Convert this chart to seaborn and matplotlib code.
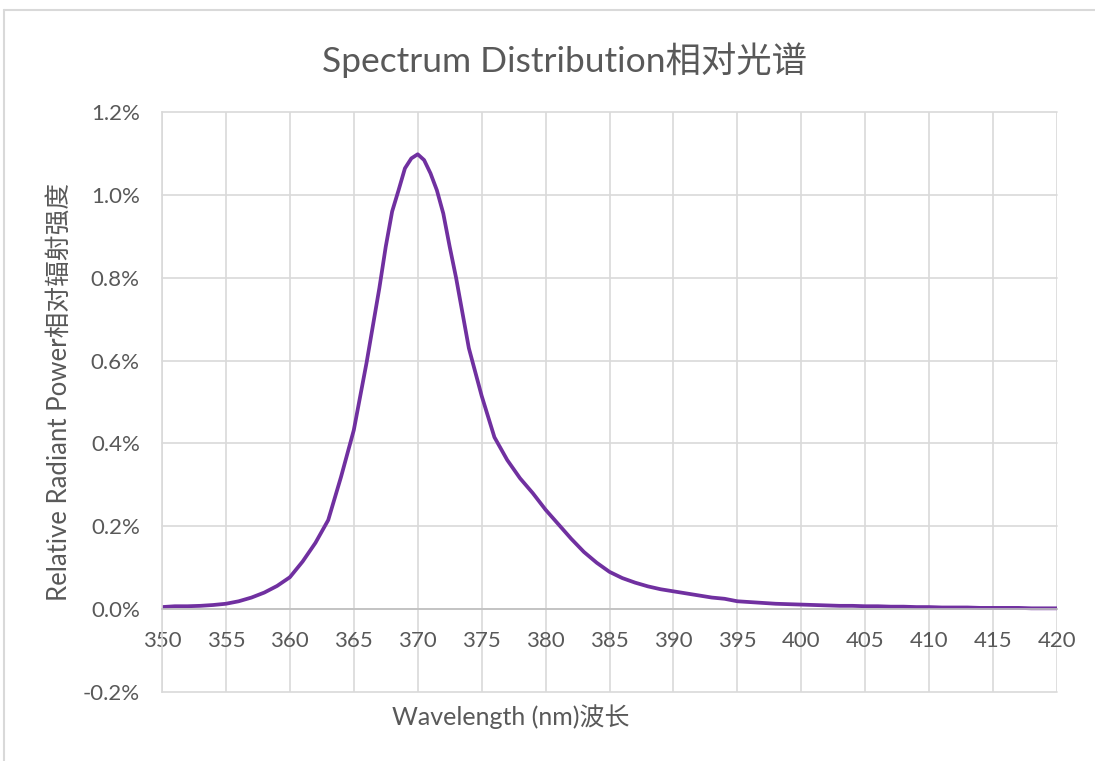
import matplotlib
matplotlib.use("Agg")
import matplotlib.pyplot as plt
import seaborn as sns
from matplotlib.ticker import PercentFormatter, MultipleLocator
from matplotlib.lines import Line2D

# wavelength (nm) and relative radiant power (%)
wavelength = [350, 351, 352, 353, 354, 355, 356, 357, 358, 359,
              360, 361, 362, 363, 364, 365, 366, 367, 367.5, 368,
              368.5, 369, 369.5, 370, 370.5, 371, 371.5, 372, 372.5, 373,
              374, 375, 376, 377, 378, 379, 380, 381, 382, 383,
              384, 385, 386, 387, 388, 389, 390, 391, 392, 393,
              394, 395, 396, 397, 398, 399, 400, 401, 402, 403,
              404, 405, 406, 407, 408, 409, 410, 411, 412, 413,
              414, 415, 416, 417, 418, 419, 420]
power = [0.005, 0.007, 0.007, 0.008, 0.010, 0.013, 0.019, 0.028, 0.040, 0.056,
         0.077, 0.115, 0.160, 0.215, 0.319, 0.432, 0.595, 0.775, 0.875, 0.960,
         1.011, 1.064, 1.088, 1.098, 1.084, 1.052, 1.011, 0.955, 0.875, 0.800,
         0.630, 0.515, 0.415, 0.360, 0.316, 0.280,
         0.240, 0.205, 0.170, 0.138, 0.112, 0.090, 0.075, 0.064, 0.055, 0.048,
         0.043, 0.038, 0.033, 0.028, 0.025, 0.019, 0.017, 0.015, 0.013, 0.012,
         0.011, 0.010, 0.009, 0.008, 0.008, 0.007, 0.007, 0.006, 0.006, 0.005,
         0.005, 0.004, 0.004, 0.004, 0.003, 0.003, 0.003, 0.003, 0.002, 0.002,
         0.002]

title = "Spectrum Distribution相对光谱"
xlabel = "Wavelength (nm)波长"
ylabel = "Relative Radiant Power相对辐射强度"

sns.set_theme(style="white")
plt.rcParams["font.family"] = ["Lato", "Noto Sans CJK SC", "DejaVu Sans"]
plt.rcParams["axes.unicode_minus"] = False

grid_c = "#d9d9d9"
text_c = "#595959"

fig = plt.figure(figsize=(10.95, 7.61), dpi=100)
ax = fig.add_axes([162 / 1095, 1 - 692 / 761, (1057 - 162) / 1095, (692 - 112) / 761])

sns.lineplot(x=wavelength, y=power, color="#7030A0", linewidth=2.7, ax=ax,
             solid_joinstyle="round", solid_capstyle="butt")

ax.set_xlim(350, 420)
ax.set_ylim(-0.2, 1.2)
ax.xaxis.set_major_locator(MultipleLocator(5))
ax.yaxis.set_major_locator(MultipleLocator(0.2))
ax.yaxis.set_major_formatter(PercentFormatter(xmax=100, decimals=1))

ax.grid(True, color=grid_c, linewidth=1.2)
ax.set_axisbelow(True)
for gl in ax.get_xgridlines() + ax.get_ygridlines():
    gl.set_clip_on(False)

ax.spines["top"].set_visible(False)
ax.spines["right"].set_visible(False)
ax.spines["left"].set_color(grid_c)
ax.spines["left"].set_linewidth(1.2)
ax.spines["bottom"].set_position(("data", 0))
ax.spines["bottom"].set_color("#bfbfbf")
ax.spines["bottom"].set_linewidth(1.2)

ax.tick_params(axis="both", length=0, labelsize=16, labelcolor=text_c)
ax.tick_params(axis="x", pad=16)
ax.tick_params(axis="y", pad=16)
ax.set_xlabel("")
ax.set_ylabel("")

fig.text(564 / 1095, 1 - 60 / 761, title, ha="center", va="center",
         fontsize=25.5, color=text_c)
fig.text(511 / 1095, 1 - 717 / 761, xlabel, ha="center", va="center",
         fontsize=18, color=text_c)
fig.text(60 / 1095, 1 - 392 / 761, ylabel, ha="center", va="center",
         rotation=90, fontsize=18.5, color=text_c)

# outer chart border (top and left edges visible)
fig.add_artist(Line2D([4 / 1095, 1], [1 - 10 / 761, 1 - 10 / 761],
                      color=grid_c, linewidth=1.5, transform=fig.transFigure))
fig.add_artist(Line2D([4 / 1095, 4 / 1095], [0, 1 - 10 / 761],
                      color=grid_c, linewidth=1.5, transform=fig.transFigure))

fig.savefig("out.png", dpi=100, facecolor="white")
